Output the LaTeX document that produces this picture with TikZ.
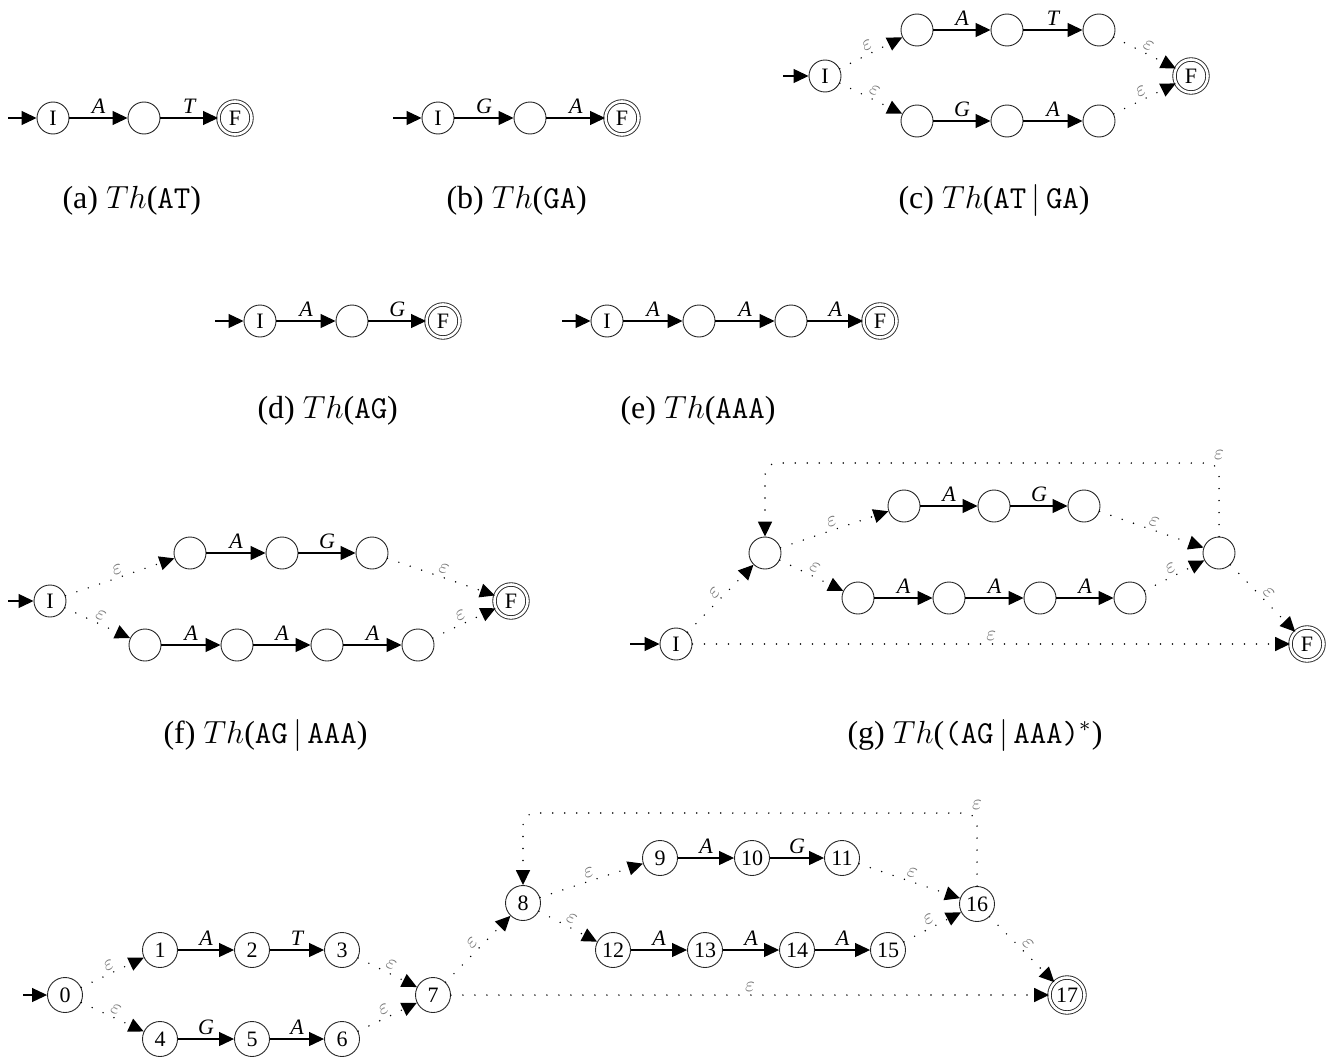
\documentclass[tikz,border=0pt]{standalone}
\usepackage{fontspec}
\setmainfont{Liberation Serif}
\usetikzlibrary{arrows.meta}

\begin{document}
\begin{tikzpicture}[x=1pt,y=-1pt,
  >={Triangle[length=15pt,width=14pt]},
  st/.style={circle,draw=black!85,line width=0.9pt,minimum size=32pt,inner sep=0pt,
             font=\fontsize{22}{22}\selectfont},
  acc/.style={st,double,double distance=2.6pt,minimum size=33pt},
  nst/.style={st,minimum size=35pt,inner sep=3pt},
  nacc/.style={nst,double,double distance=2.6pt,minimum size=35pt},
  tr/.style={->,line width=1.1pt},
  ep/.style={->,line width=1.6pt,dash pattern=on 0pt off 12pt,line cap=round},
  lab/.style={above,inner sep=4pt,font=\fontsize{22}{22}\selectfont\itshape},
  eps/.style={above,sloped,inner sep=1pt,text=black!55,font=\fontsize{10}{10}\selectfont,
              scale=2.1,transform shape},
  epsu/.style={above,inner sep=1pt,text=black!55,font=\fontsize{10}{10}\selectfont,
               scale=2.1,transform shape},
  captxt/.style={anchor=base west,inner sep=0pt,font=\fontsize{12}{14}\selectfont,
              scale=2.667,transform shape}]
\useasboundingbox (0,0) rectangle (1341,1057);

% ---------- (a) Th(AT)
\coordinate (as) at (8,118);
\node[st]  (a0) at (53,118) {I};
\node[st]  (a1) at (144,118) {};
\node[acc] (a2) at (235,118) {F};
\draw[tr] (as) -- (a0);
\draw[tr] (a0) -- node[lab]{A} (a1);
\draw[tr] (a1) -- node[lab]{T} (a2);
\node[captxt] (capa) at (62,208) {(a) $Th$(\texttt{AT})};

% ---------- (b) Th(GA)
\coordinate (bs) at (393,118);
\node[st]  (b0) at (438,118) {I};
\node[st]  (b1) at (530,118) {};
\node[acc] (b2) at (622,118) {F};
\draw[tr] (bs) -- (b0);
\draw[tr] (b0) -- node[lab]{G} (b1);
\draw[tr] (b1) -- node[lab]{A} (b2);
\node[captxt] (capb) at (446,208) {(b) $Th$(\texttt{GA})};

% ---------- (c) Th(AT|GA)
\coordinate (cs) at (783,76);
\node[st]  (c0) at (825,76) {I};
\node[st]  (c1) at (917,30) {};
\node[st]  (c2) at (1007,30) {};
\node[st]  (c3) at (1099,30) {};
\node[st]  (c4) at (917,121) {};
\node[st]  (c5) at (1007,121) {};
\node[st]  (c6) at (1099,121) {};
\node[acc] (cf) at (1191,76) {F};
\draw[tr] (cs) -- (c0);
\draw[ep] (c0) -- node[eps]{$\varepsilon$} (c1);
\draw[ep] (c0) -- node[eps]{$\varepsilon$} (c4);
\draw[tr] (c1) -- node[lab]{A} (c2);
\draw[tr] (c2) -- node[lab]{T} (c3);
\draw[tr] (c4) -- node[lab]{G} (c5);
\draw[tr] (c5) -- node[lab]{A} (c6);
\draw[ep] (c3) -- node[eps]{$\varepsilon$} (cf);
\draw[ep] (c6) -- node[eps]{$\varepsilon$} (cf);
\node[captxt] (capc) at (898,208) {(c) $Th$(\texttt{AT}$\,|\,$\texttt{GA})};

% ---------- (d) Th(AG)
\coordinate (ds) at (215,321);
\node[st]  (d0) at (260,321) {I};
\node[st]  (d1) at (352,321) {};
\node[acc] (d2) at (443,321) {F};
\draw[tr] (ds) -- (d0);
\draw[tr] (d0) -- node[lab]{A} (d1);
\draw[tr] (d1) -- node[lab]{G} (d2);
\node[captxt] (capd) at (257,418) {(d) $Th$(\texttt{AG})};

% ---------- (e) Th(AAA)
\coordinate (es) at (562,321);
\node[st]  (e0) at (607,321) {I};
\node[st]  (e1) at (699,321) {};
\node[st]  (e2) at (791,321) {};
\node[acc] (e3) at (880,321) {F};
\draw[tr] (es) -- (e0);
\draw[tr] (e0) -- node[lab]{A} (e1);
\draw[tr] (e1) -- node[lab]{A} (e2);
\draw[tr] (e2) -- node[lab]{A} (e3);
\node[captxt] (cape) at (620,418) {(e) $Th$(\texttt{AAA})};

% ---------- (f) Th(AG|AAA)
\coordinate (fs) at (8,601);
\node[st]  (f0) at (50,601) {I};
\node[st]  (f1) at (190,553) {};
\node[st]  (f2) at (282,553) {};
\node[st]  (f3) at (372,553) {};
\node[st]  (f4) at (145,645) {};
\node[st]  (f5) at (237,645) {};
\node[st]  (f6) at (327,645) {};
\node[st]  (f7) at (418,645) {};
\node[acc] (ff) at (511,601) {F};
\draw[tr] (fs) -- (f0);
\draw[ep] (f0) -- node[eps]{$\varepsilon$} (f1);
\draw[ep] (f0) -- node[eps]{$\varepsilon$} (f4);
\draw[tr] (f1) -- node[lab]{A} (f2);
\draw[tr] (f2) -- node[lab]{G} (f3);
\draw[tr] (f4) -- node[lab]{A} (f5);
\draw[tr] (f5) -- node[lab]{A} (f6);
\draw[tr] (f6) -- node[lab]{A} (f7);
\draw[ep] (f3) -- node[eps]{$\varepsilon$} (ff);
\draw[ep] (f7) -- node[eps]{$\varepsilon$} (ff);
\node[captxt] (capf) at (163,743) {(f) $Th$(\texttt{AG}$\,|\,$\texttt{AAA})};

% ---------- (g) Th((AG|AAA)*)
\coordinate (gs) at (630,644);
\node[st]  (g0) at (676,644) {I};
\node[st]  (gl) at (765,553) {};
\node[st]  (g1) at (904,506) {};
\node[st]  (g2) at (994,506) {};
\node[st]  (g3) at (1084,506) {};
\node[st]  (g4) at (858,598) {};
\node[st]  (g5) at (949,598) {};
\node[st]  (g6) at (1040,598) {};
\node[st]  (g7) at (1130,598) {};
\node[st]  (gr) at (1219,553) {};
\node[acc] (gf) at (1307,644) {F};
\draw[tr] (gs) -- (g0);
\draw[ep] (g0) -- node[eps]{$\varepsilon$} (gl);
\draw[ep] (gl) -- node[eps]{$\varepsilon$} (g1);
\draw[ep] (gl) -- node[eps]{$\varepsilon$} (g4);
\draw[tr] (g1) -- node[lab]{A} (g2);
\draw[tr] (g2) -- node[lab]{G} (g3);
\draw[tr] (g4) -- node[lab]{A} (g5);
\draw[tr] (g5) -- node[lab]{A} (g6);
\draw[tr] (g6) -- node[lab]{A} (g7);
\draw[ep] (g3) -- node[eps]{$\varepsilon$} (gr);
\draw[ep] (g7) -- node[eps]{$\varepsilon$} (gr);
\draw[ep] (gr) -- node[eps]{$\varepsilon$} (gf);
\draw[ep] (g0) -- node[epsu]{$\varepsilon$} (gf);
\draw[ep,rounded corners=12pt] (gr.north) -- (gr.north |- 0,463) node[epsu]{$\varepsilon$}
  -- (gl.north |- 0,463) -- (gl.north);
\node[captxt] (capg) at (847,743) {(g) $Th$(\texttt{(AG}$\,|\,$\texttt{AAA)}$^*$)};

% ---------- (h) numbered automaton
\coordinate (hs) at (23,995);
\node[nst]  (h0)  at (65,995) {0};
\node[nst]  (h1)  at (160,950) {1};
\node[nst]  (h2)  at (252,950) {2};
\node[nst]  (h3)  at (342,950) {3};
\node[nst]  (h4)  at (160,1039) {4};
\node[nst]  (h5)  at (252,1039) {5};
\node[nst]  (h6)  at (342,1039) {6};
\node[nst]  (h7)  at (433,995) {7};
\node[nst]  (h8)  at (523,903) {8};
\node[nst]  (h9)  at (660,858) {9};
\node[nst]  (h10) at (752,858) {10};
\node[nst]  (h11) at (842,858) {11};
\node[nst]  (h12) at (613,950) {12};
\node[nst]  (h13) at (705,950) {13};
\node[nst]  (h14) at (797,950) {14};
\node[nst]  (h15) at (888,950) {15};
\node[nst]  (h16) at (977,904) {16};
\node[nacc] (h17) at (1067,995) {17};
\draw[tr] (hs) -- (h0);
\draw[ep] (h0) -- node[eps]{$\varepsilon$} (h1);
\draw[ep] (h0) -- node[eps]{$\varepsilon$} (h4);
\draw[tr] (h1) -- node[lab]{A} (h2);
\draw[tr] (h2) -- node[lab]{T} (h3);
\draw[tr] (h4) -- node[lab]{G} (h5);
\draw[tr] (h5) -- node[lab]{A} (h6);
\draw[ep] (h3) -- node[eps]{$\varepsilon$} (h7);
\draw[ep] (h6) -- node[eps]{$\varepsilon$} (h7);
\draw[ep] (h7) -- node[eps]{$\varepsilon$} (h8);
\draw[ep] (h8) -- node[eps]{$\varepsilon$} (h9);
\draw[ep] (h8) -- node[eps]{$\varepsilon$} (h12);
\draw[tr] (h9) -- node[lab]{A} (h10);
\draw[tr] (h10) -- node[lab]{G} (h11);
\draw[tr] (h12) -- node[lab]{A} (h13);
\draw[tr] (h13) -- node[lab]{A} (h14);
\draw[tr] (h14) -- node[lab]{A} (h15);
\draw[ep] (h11) -- node[eps]{$\varepsilon$} (h16);
\draw[ep] (h15) -- node[eps]{$\varepsilon$} (h16);
\draw[ep] (h16) -- node[eps]{$\varepsilon$} (h17);
\draw[ep] (h7) -- node[epsu]{$\varepsilon$} (h17);
\draw[ep,rounded corners=12pt] (h16.north) -- (h16.north |- 0,813) node[epsu]{$\varepsilon$}
  -- (h8.north |- 0,813) -- (h8.north);
\end{tikzpicture}
\end{document}
